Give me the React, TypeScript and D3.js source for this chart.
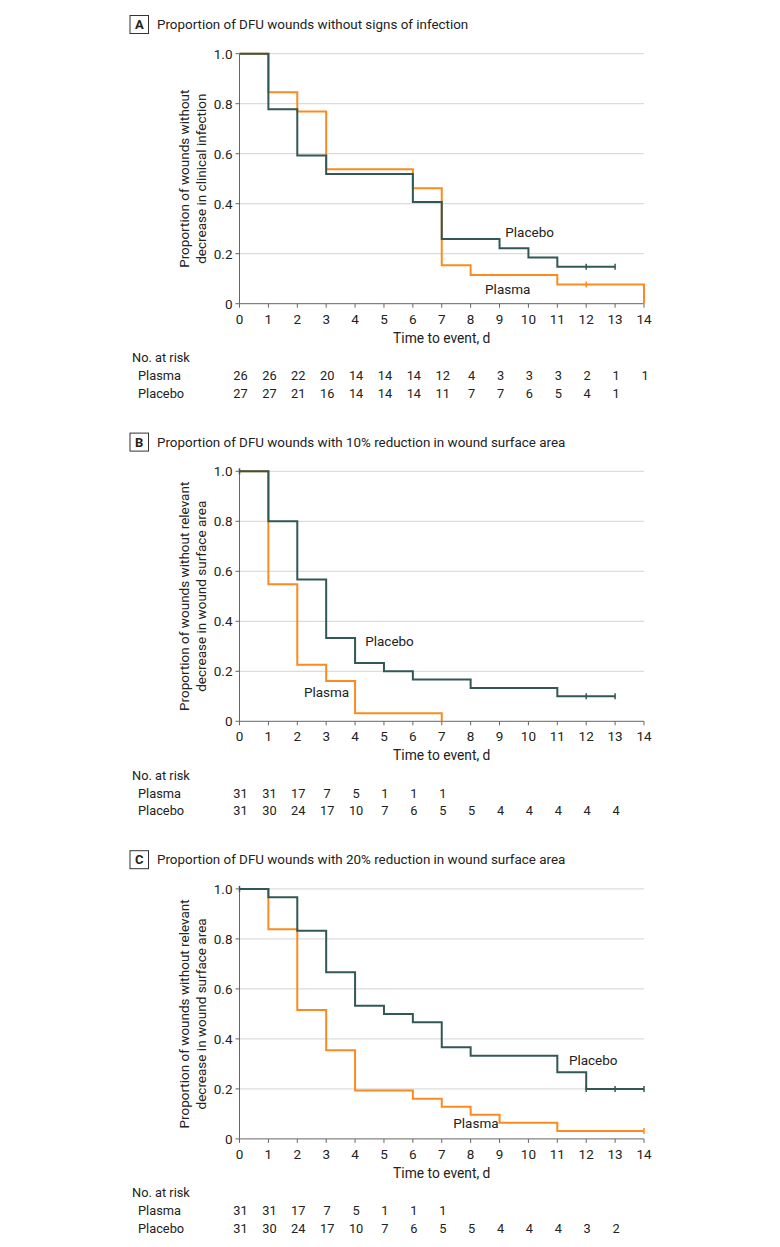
import React from "react";
import * as d3 from "d3";

// ---------- data ----------
const xTicks = [0, 1, 2, 3, 4, 5, 6, 7, 8, 9, 10, 11, 12, 13, 14];
const yTicks = [0, 0.2, 0.4, 0.6, 0.8, 1.0];
const yTickLabels = ["0", "0.2", "0.4", "0.6", "0.8", "1.0"];

// Panel A
const aPlasmaTimes = [0, 1, 2, 3, 6, 7, 8, 11, 14];
const aPlasmaSurv = [1, 0.846, 0.769, 0.538, 0.462, 0.154, 0.115, 0.077, 0];
const aPlasmaCensor = [12];
const aPlaceboTimes = [0, 1, 2, 3, 6, 7, 9, 10, 11];
const aPlaceboSurv = [1, 0.778, 0.593, 0.519, 0.407, 0.259, 0.222, 0.185, 0.148];
const aPlaceboCensor = [12, 13];
const aRiskPlasma = [26, 26, 22, 20, 14, 14, 14, 12, 4, 3, 3, 3, 2, 1, 1];
const aRiskPlacebo = [27, 27, 21, 16, 14, 14, 14, 11, 7, 7, 6, 5, 4, 1];

// Panel B
const bPlasmaTimes = [0, 1, 2, 3, 4, 7];
const bPlasmaSurv = [1, 0.548, 0.226, 0.161, 0.032, 0];
const bPlasmaCensor: number[] = [];
const bPlaceboTimes = [0, 1, 2, 3, 4, 5, 6, 8, 11];
const bPlaceboSurv = [1, 0.8, 0.567, 0.333, 0.233, 0.2, 0.167, 0.133, 0.1];
const bPlaceboCensor = [0, 12, 13];
const bRiskPlasma = [31, 31, 17, 7, 5, 1, 1, 1];
const bRiskPlacebo = [31, 30, 24, 17, 10, 7, 6, 5, 5, 4, 4, 4, 4, 4];

// Panel C
const cPlasmaTimes = [0, 1, 2, 3, 4, 6, 7, 8, 9, 11];
const cPlasmaSurv = [1, 0.839, 0.516, 0.355, 0.194, 0.161, 0.129, 0.097, 0.065, 0.032];
const cPlasmaCensor = [14];
const cPlaceboTimes = [0, 1, 2, 3, 4, 5, 6, 7, 8, 11, 12];
const cPlaceboSurv = [1, 0.967, 0.833, 0.667, 0.533, 0.5, 0.467, 0.367, 0.333, 0.267, 0.2];
const cPlaceboCensor = [0, 12, 13, 14];
const cRiskPlasma = [31, 31, 17, 7, 5, 1, 1, 1];
const cRiskPlacebo = [31, 30, 24, 17, 10, 7, 6, 5, 5, 4, 4, 4, 3, 2];

const seriesNames = ["Plasma", "Placebo"];

// ---------- styles ----------
const FONT = "Roboto, 'Open Sans', sans-serif";
const ORANGE = "#fb8b1e";
const TEAL = "#325855";
const AXIS = "#666";
const GRID = "#dcdcdc";
const TEXT = "#222";

type Panel = {
  letter: string;
  title: string;
  yTitle: [string, string];
  plasma: { t: number[]; s: number[]; end: number; censor: number[] };
  placebo: { t: number[]; s: number[]; end: number; censor: number[] };
  risk: [number[], number[]];
  placeboLabel: [number, number];
  plasmaLabel: [number, number];
};

const panels: Panel[] = [
  {
    letter: "A",
    title: "Proportion of DFU wounds without signs of infection",
    yTitle: ["Proportion of wounds without", "decrease in clinical infection"],
    plasma: { t: aPlasmaTimes, s: aPlasmaSurv, end: 14, censor: aPlasmaCensor },
    placebo: { t: aPlaceboTimes, s: aPlaceboSurv, end: 13, censor: aPlaceboCensor },
    risk: [aRiskPlasma, aRiskPlacebo],
    placeboLabel: [9.2, 0.287],
    plasmaLabel: [8.5, 0.06],
  },
  {
    letter: "B",
    title: "Proportion of DFU wounds with 10% reduction in wound surface area",
    yTitle: ["Proportion of wounds without relevant", "decrease in wound surface area"],
    plasma: { t: bPlasmaTimes, s: bPlasmaSurv, end: 7, censor: bPlasmaCensor },
    placebo: { t: bPlaceboTimes, s: bPlaceboSurv, end: 13, censor: bPlaceboCensor },
    risk: [bRiskPlasma, bRiskPlacebo],
    placeboLabel: [4.35, 0.323],
    plasmaLabel: [2.23, 0.117],
  },
  {
    letter: "C",
    title: "Proportion of DFU wounds with 20% reduction in wound surface area",
    yTitle: ["Proportion of wounds without relevant", "decrease in wound surface area"],
    plasma: { t: cPlasmaTimes, s: cPlasmaSurv, end: 14, censor: cPlasmaCensor },
    placebo: { t: cPlaceboTimes, s: cPlaceboSurv, end: 14, censor: cPlaceboCensor },
    risk: [cRiskPlasma, cRiskPlacebo],
    placeboLabel: [11.4, 0.317],
    plasmaLabel: [7.4, 0.062],
  },
];

const PANEL_H = 417.6;
const x = d3.scaleLinear().domain([0, 14]).range([239.5, 644]);
const y = d3.scaleLinear().domain([0, 1]).range([303.7, 53.7]);

function stepPath(t: number[], s: number[], end: number) {
  const pts: [number, number][] = t.map((ti, i) => [ti, s[i]]);
  pts.push([end, s[s.length - 1]]);
  const line = d3
    .line<[number, number]>()
    .x((d) => x(d[0]))
    .y((d) => y(d[1]))
    .curve(d3.curveStepAfter);
  return line(pts) || "";
}

function survAt(t: number[], s: number[], time: number) {
  let v = s[0];
  for (let i = 0; i < t.length; i++) if (t[i] <= time) v = s[i];
  return v;
}

function PanelView({ p, offset }: { p: Panel; offset: number }) {
  const series = [
    { key: "plasma", d: p.plasma, color: ORANGE },
    { key: "placebo", d: p.placebo, color: TEAL },
  ];
  const yMid = (y(0) + y(1)) / 2;
  return (
    <g transform={`translate(0,${offset})`}>
      {/* title */}
      <rect x={130} y={15.5} width={18.5} height={18} fill="white" stroke="#333" strokeWidth={1} />
      <text x={139.25} y={24.5} textAnchor="middle" dominantBaseline="central" fontSize={13} fontWeight="bold" fill={TEXT}>
        {p.letter}
      </text>
      <text x={157} y={24.5} dominantBaseline="central" fontSize={13.4} fill={TEXT}>
        {p.title}
      </text>
      {/* grid */}
      {yTicks.slice(1).map((v) => (
        <line key={v} x1={x(0)} x2={x(14)} y1={y(v)} y2={y(v)} stroke={GRID} strokeWidth={1.2} />
      ))}
      {/* axes */}
      <line x1={x(0)} x2={x(0)} y1={y(0)} y2={y(1)} stroke={AXIS} strokeWidth={1} />
      <line x1={x(0)} x2={x(14)} y1={y(0)} y2={y(0)} stroke={AXIS} strokeWidth={1} />
      {yTicks.map((v, i) => (
        <g key={v}>
          <line x1={x(0) - 4} x2={x(0)} y1={y(v)} y2={y(v)} stroke={AXIS} />
          <text x={x(0) - 7} y={y(v)} textAnchor="end" dominantBaseline="central" fontSize={13.5} fill={TEXT}>
            {yTickLabels[i]}
          </text>
        </g>
      ))}
      {xTicks.map((v) => (
        <g key={v}>
          <line x1={x(v)} x2={x(v)} y1={y(0)} y2={y(0) + 4} stroke={AXIS} />
          <text x={x(v)} y={318.5} textAnchor="middle" dominantBaseline="central" fontSize={13.5} fill={TEXT}>
            {v}
          </text>
        </g>
      ))}
      <text x={(x(0) + x(14)) / 2} y={337.5} textAnchor="middle" dominantBaseline="central" fontSize={13.8} fill={TEXT}>
        Time to event, d
      </text>
      {/* y title */}
      <text transform={`translate(184,${yMid}) rotate(-90)`} textAnchor="middle" dominantBaseline="central" fontSize={13.5} fill={TEXT}>
        {p.yTitle[0]}
      </text>
      <text transform={`translate(200.5,${yMid}) rotate(-90)`} textAnchor="middle" dominantBaseline="central" fontSize={13.5} fill={TEXT}>
        {p.yTitle[1]}
      </text>
      {/* curves */}
      {series.map((s) => (
        <g key={s.key}>
          <path d={stepPath(s.d.t, s.d.s, s.d.end)} fill="none" stroke={s.color} strokeWidth={2} />
          {s.d.censor.map((c) => (
            <line key={c} x1={x(c)} x2={x(c)} y1={y(survAt(s.d.t, s.d.s, c)) - 3} y2={y(survAt(s.d.t, s.d.s, c)) + 3} stroke={s.color} strokeWidth={1.5} />
          ))}
        </g>
      ))}
      <text x={x(p.placeboLabel[0])} y={y(p.placeboLabel[1])} dominantBaseline="central" fontSize={13.5} fill={TEXT}>
        Placebo
      </text>
      <text x={x(p.plasmaLabel[0])} y={y(p.plasmaLabel[1])} dominantBaseline="central" fontSize={13.5} fill={TEXT}>
        Plasma
      </text>
      {/* risk table */}
      <text x={132} y={357.7} dominantBaseline="central" fontSize={12.8} fill={TEXT}>
        No. at risk
      </text>
      {p.risk.map((row, r) => (
        <g key={r}>
          <text x={138} y={375.7 + r * 17.6} dominantBaseline="central" fontSize={12.8} fill={TEXT}>
            {seriesNames[r]}
          </text>
          {row.map((n, i) => (
            <text key={i} x={x(xTicks[i]) + 1} y={375.7 + r * 17.6} textAnchor="middle" dominantBaseline="central" fontSize={12.8} fill={TEXT}>
              {n}
            </text>
          ))}
        </g>
      ))}
    </g>
  );
}

export default function App() {
  return (
    <svg
      width={780}
      height={1247}
      style={{ position: "absolute", left: 0, top: 0, background: "white" }}
      fontFamily={FONT}
    >
      <rect width={780} height={1247} fill="white" />
      {panels.map((p, i) => (
        <PanelView key={p.letter} p={p} offset={i * PANEL_H} />
      ))}
    </svg>
  );
}
